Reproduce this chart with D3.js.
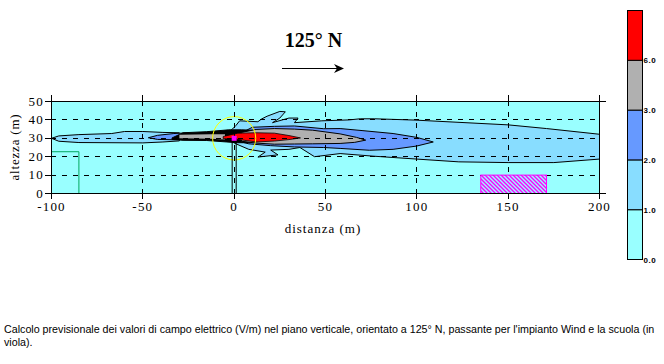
<!DOCTYPE html>
<html><head><meta charset="utf-8">
<script src="https://cdn.jsdelivr.net/npm/d3@7"></script>
<style>html,body{margin:0;padding:0;background:#fff}svg{display:block}</style>
</head><body><svg id="c" width="664" height="364"></svg>
<script>
// Axis ticks
const xTicks = [-100,-50,0,50,100,150,200];
const yTicks = [0,10,20,30,40,50];
// Colour scale
const scaleLabels = ["0.0","1.0","2.0","3.0","6.0"];
const scaleBands = [0,1,2,3,4,5];
const scaleColors = ["#99FFFF","#88DDFF","#6699FF","#B0B0B0","#FF0000"];
// Field contours, each [distance, height]
const level1Left = [[-100,30],[-96,31.3],[-85,32],[-67,32.6],[-60,33.7],[-50,33.7],[-39,33.2],[-30,33],[-30,28.6],[-39,28],[-50,27.5],[-85,27.7],[-96,28.4]];
const level1Main = [[-6,30.5],[-1,35],[1,37],[3,39.5],[13,39],[15,40.5],[18,42],[25,44.6],[28,44.4],[25,41],[21,38.5],[30,41],[35,41],[33,38.5],[48,39.5],[63,40],[69,40.6],[77,40.6],[99,39.9],[150,37.3],[171,35.3],[200,32.2],[200,18.7],[175,16.8],[150,16.8],[123,17.2],[100,18.7],[76,20.3],[58,21.7],[44,20],[36,25],[30,24],[20,23.6],[24,21],[13,19.8],[17,22.5],[8,24],[1,27]];
const level2Left = [[-47,30.3],[-42,31.6],[-33,32.6],[-25,33],[-25,29.6],[-33,29.2],[-42,29.4]];
const level2Main = [[4,33],[10,36],[22,36.5],[33,36.7],[49,35.2],[58,35.3],[70,34.2],[87,32.6],[100,30.5],[109,28],[100,25.8],[87,24],[74,23.5],[58,24.5],[49,25],[33,25.3],[20,26],[8,27],[4,28]];
const level3Left = [[-30,31.9],[-13,32.2],[-5,32.2],[-5,29.4],[-13,29.8],[-30,30]];
const level3Main = [[4,33.2],[12,34.8],[22,35.3],[33,35],[43,34.4],[58,32.4],[67,30.5],[72,29],[66,27.8],[58,27.2],[43,27],[33,26.9],[22,26.8],[12,27.4],[4,28.4]];
const level6Main = [[-6,31],[2,32.8],[12,33],[22,32.8],[30,31.5],[36.3,30.2],[30,29.3],[22,28.5],[12,28],[2,29.4],[-6,29.8]];
const blackBand = [[-34,30.2],[-28,33],[-15,33.6],[-3,34.6],[4,34.6],[10,34.4],[12,33],[12,28],[8,27.6],[2,27.6],[-4,28],[-15,28.8],[-28,28.9],[-34,29.4]];
// Buildings and mast
const greenBuilding = [[-100,22.7],[-85,22.7],[-85,0]];
const school = {x0:135,x1:171,y0:0,y1:10};
const mastX = [-1.1,1.1];
const mastTop = 30;
const source = {x:0,y:30,r:11.8};

const svg = d3.select("#c");
const x = d3.scaleLinear().domain([-100,200]).range([51,599]);
const y = d3.scaleLinear().domain([0,50]).range([193,101]);
const serif = "'Liberation Serif','Times New Roman',serif";

const defs = svg.append("defs");
const pat = defs.append("pattern").attr("id","hatch").attr("width",4).attr("height",4)
  .attr("patternUnits","userSpaceOnUse");
pat.append("rect").attr("width",4).attr("height",4).attr("fill","#99FFFF");
pat.append("path").attr("d","M-1,1 L3,5 M1,-1 L5,3").attr("stroke","#FF00FF").attr("stroke-width",1.4);
const clip = defs.append("clipPath").attr("id","plot");
clip.append("rect").attr("x",x(-100)+.5).attr("y",y(50)+.5).attr("width",x(200)-x(-100)).attr("height",y(0)-y(50));

svg.append("rect").attr("x",x(-100)+.5).attr("y",y(50)+.5).attr("width",x(200)-x(-100)).attr("height",y(0)-y(50)).attr("fill",scaleColors[0]);

const line = d3.line().x(d=>x(d[0])+.5).y(d=>y(d[1])+.5);
const closed = d=>line(d)+"Z";
const g = svg.append("g").attr("clip-path","url(#plot)");
function shape(pts,fill,w){ g.append("path").attr("d",closed(pts)).attr("fill",fill).attr("stroke","#000").attr("stroke-width",w===undefined?1:w); }
shape(level1Left,scaleColors[1]);
shape(level1Main,scaleColors[1]);
shape(level2Left,scaleColors[2]);
shape(level2Main,scaleColors[2]);
shape(blackBand,"#000");
shape(level3Left,scaleColors[3],0);
shape(level3Main,scaleColors[3]);
shape(level6Main,scaleColors[4],.8);

// yellow circle
svg.append("ellipse").attr("cx",x(source.x)+.5).attr("cy",y(source.y)+.5)
  .attr("rx",x(source.r)-x(0)).attr("ry",y(0)-y(source.r)).attr("fill","none").attr("stroke","#FFFF00").attr("stroke-width",1);

// grid via axes
const gridV = d3.axisBottom(x).tickValues(xTicks.slice(1,-1)).tickSize(y(0)-y(50)).tickFormat("");
svg.append("g").attr("transform",`translate(0,${y(50)})`).call(gridV)
  .call(a=>a.select(".domain").remove())
  .selectAll("line").attr("stroke","#000").attr("stroke-dasharray","5 6").attr("shape-rendering","crispEdges");
const gridH = d3.axisLeft(y).tickValues(yTicks.slice(1,-1)).tickSize(-(x(200)-x(-100))).tickFormat("");
svg.append("g").attr("transform",`translate(${x(-100)},0)`).call(gridH)
  .call(a=>a.select(".domain").remove())
  .selectAll("line").attr("stroke","#000").attr("stroke-dasharray","5 6").attr("shape-rendering","crispEdges");

// green building
g.append("path").attr("d",line(greenBuilding)).attr("fill","none").attr("stroke","#00A860").attr("stroke-width",1);
// school
svg.append("rect").attr("x",x(school.x0)+.5).attr("y",y(school.y1)+.5).attr("width",x(school.x1)-x(school.x0)).attr("height",y(school.y0)-y(school.y1))
  .attr("fill","url(#hatch)").attr("stroke","#FF00FF").attr("stroke-width",1);
// mast
mastX.forEach(m=>svg.append("line").attr("x1",x(m)+.5).attr("x2",x(m)+.5).attr("y1",y(0)).attr("y2",y(mastTop)).attr("stroke","#000"));
svg.append("rect").attr("x",x(source.x)-2).attr("y",y(source.y)-2).attr("width",5).attr("height",5).attr("fill","#FF00FF");

// frame and ticks
svg.append("rect").attr("x",x(-100)+.5).attr("y",y(50)+.5).attr("width",x(200)-x(-100)).attr("height",y(0)-y(50)).attr("fill","none").attr("stroke","#000");
const axB = d3.axisBottom(x).tickValues(xTicks).tickSize(6).tickPadding(3).tickFormat(d=>d);
const gb = svg.append("g").attr("transform",`translate(0,${y(0)})`).call(axB);
const axT = d3.axisTop(x).tickValues(xTicks).tickSize(6).tickFormat("");
const gt = svg.append("g").attr("transform",`translate(0,${y(50)})`).call(axT);
const axL = d3.axisLeft(y).tickValues(yTicks).tickSize(6).tickPadding(1).tickFormat(d=>d);
const gl = svg.append("g").attr("transform",`translate(${x(-100)},0)`).call(axL);
const axR = d3.axisRight(y).tickValues([0,50]).tickSize(7).tickFormat("");
const gr = svg.append("g").attr("transform",`translate(${x(200)},0)`).call(axR);
[gb,gt,gl,gr].forEach(a=>{a.select(".domain").remove();a.selectAll("line").attr("stroke","#000").attr("shape-rendering","crispEdges");
  a.selectAll("text").attr("fill","#000").style("font-family",serif).style("font-size","13px").style("letter-spacing","1.2px");});

svg.append("text").attr("x",323).attr("y",233).attr("text-anchor","middle").style("font-family",serif).style("font-size","13px").style("letter-spacing","1px").text("distanza (m)");
svg.append("text").attr("transform","translate(19,147) rotate(-90)").attr("text-anchor","middle").style("font-family",serif).style("font-size","13px").style("letter-spacing",".8px").text("altezza (m)");

svg.append("text").attr("x",313.5).attr("y",47).attr("text-anchor","middle").style("font-family",serif).style("font-size","20px").style("font-weight","bold").text("125° N");
svg.append("line").attr("x1",282).attr("x2",343).attr("y1",68.5).attr("y2",68.5).attr("stroke","#000");
svg.append("path").attr("d","M334,64 L344,68.5 L334,73 L337,68.5Z").attr("fill","#000");

// colour bar
const by = d3.scaleLinear().domain([0,5]).range([259.5,10.5]);
svg.selectAll(".band").data(scaleBands.slice(0,5)).join("rect").attr("class","band")
  .attr("x",627.5).attr("width",15).attr("y",d=>by(d+1)).attr("height",d=>by(d)-by(d+1))
  .attr("fill",d=>scaleColors[d]).attr("stroke","#000");
const barAxis = d3.axisRight(by).tickValues(scaleBands.slice(0,5)).tickSize(0).tickPadding(1).tickFormat(d=>scaleLabels[d]);
const ga = svg.append("g").attr("transform","translate(642.5,0)").call(barAxis);
ga.select(".domain").remove();
ga.selectAll("text").attr("fill","#000").style("font-family","'Liberation Sans',Arial,sans-serif").style("font-size","8px").style("font-weight","bold").style("letter-spacing",".6px");

const cap = svg.append("g").style("font-family","'Liberation Sans',Arial,sans-serif").style("font-size","10.7px");
cap.append("text").attr("x",4).attr("y",333).text("Calcolo previsionale dei valori di campo elettrico (V/m) nel piano verticale, orientato a 125° N, passante per l'impianto Wind e la scuola (in");
cap.append("text").attr("x",4).attr("y",346).text("viola).");
</script></body></html>
